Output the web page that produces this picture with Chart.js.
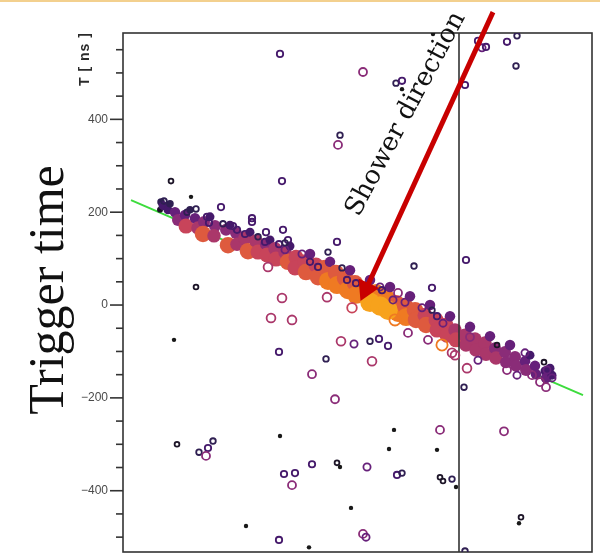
<!DOCTYPE html>
<html>
<head>
<meta charset="utf-8">
<script src="https://cdn.jsdelivr.net/npm/chart.js@4.4.1/dist/chart.umd.min.js"></script>
<style>
  body { margin: 0; background: #fff; }
  #wrap { position: relative; width: 600px; height: 554px; }
  #slideEdge { position: absolute; left: 0; top: 0; width: 600px; height: 2px; background: #f3d08e; }
</style>
</head>
<body>
<div id="wrap">
  <canvas id="trigger" width="600" height="554"></canvas>
  <div id="slideEdge"></div>
</div>
<script>
// hits: [distance along shower axis (arb.), trigger time T in ns, signal level 0-9]
const bandHits = [
  [37,205,0],[38,222,1],[40,214,2],[45,205,2],
  [47,218,1],[52,200,3],[55,183,4],[62,194,3],[63,170,6],[67,205,1],
  [72,187,3],[75,166,5],[81,179,4],[80,153,7],[87,190,2],[92,170,4],[91,149,5],
  [103,162,4],[105,129,7],[107,172,2],[113,155,4],[114,131,5],[122,144,5],[125,116,7],[127,157,2],
  [133,138,5],[135,114,6],[143,131,4],[144,108,6],[147,140,2],[152,121,5],[153,99,6],
  [162,114,5],[165,93,7],[167,127,2],[173,103,6],[172,80,6],[182,93,6],[183,71,7],[187,110,3],
  [193,86,6],[195,60,7],[202,80,7],[205,52,8],[207,93,3],[213,69,7],[214,43,8],
  [222,58,7],[225,32,8],[227,75,3],[232,47,7],[233,22,8],[243,32,8],[247,54,3],
  [253,26,8],[263,15,8],[267,39,3],[273,4,7],[275,-17,8],
  [282,-2,7],[283,-26,8],[287,19,3],[292,-11,7],[293,-32,7],[302,-22,6],[303,-43,7],[307,0,3],
  [313,-32,6],[314,-54,6],[323,-43,6],[324,-65,6],[327,-24,3],[332,-54,5],[333,-75,6],
  [342,-65,5],[343,-86,5],[347,-47,3],[352,-73,5],[353,-97,5],[362,-82,5],[363,-106,5],[367,-67,3],
  [372,-93,4],[373,-114,5],[382,-101,4],[383,-123,4],[387,-86,3],[392,-112,4],[393,-131,4],
  [402,-121,3],[403,-140,4],[407,-108,2],[412,-131,3],[413,-149,3],[422,-142,2],[423,-157,3],
  [427,-136,2],[429,-151,2],
  [247,6,9],[257,-2,9],[265,-11,9]
];

// open circles hugging the band
const edgeRings = [
  [73,207,1],[64,200,1],[84,190,2],[86,177,2],[100,175,1],[110,170,2],[114,162,2],[122,153,2],
  [135,147,1],[142,136,2],[156,131,2],[162,119,3],[165,140,2],[162,134,1],[179,110,3],[187,93,2],
  [195,82,2],[219,80,1],[224,54,2],[233,47,2],[257,39,3],[259,32,2],[275,26,4],[270,11,3],
  [282,6,3],[299,-6,3],[309,-11,1],[314,-24,2],[320,-39,3],[347,-69,4],[374,-86,0],[402,-103,3],
  [421,-123,0],[424,-140,3],[429,-157,3],
  [204,17,5],[159,15,5],[229,-6,6],[272,-32,8],[285,-60,4],[305,-75,4],[319,-86,8],[329,-103,5],
  [332,-108,5],[355,-119,3],[384,-140,4],[394,-151,3],[409,-151,4],[417,-166,4],[423,-177,4],[145,82,5]
];

// open circles away from the band
const strayRings = [
  [157,541,2],[240,502,4],[273,478,1],[279,483,2],[355,569,2],[359,554,3],[363,556,2],[384,567,2],
  [394,580,1],[393,515,1],[342,474,2],[217,366,1],[215,345,4],[48,267,0],[159,267,2],[41,224,1],
  [98,211,2],[129,187,2],[129,179,2],[143,157,2],[160,162,2],[214,136,2],[205,114,1],[343,97,2],
  [291,84,1],[73,39,0],[148,-28,5],[169,-32,5],[156,-101,2],[54,-300,0],[76,-317,1],[85,-308,2],
  [90,-293,1],[83,-325,4],[161,-364,2],[172,-362,2],[169,-388,4],[156,-506,2],[309,37,2],[218,-78,5],
  [231,-84,3],[247,-78,1],[256,-73,2],[265,-88,2],[249,-121,5],[203,-116,1],[189,-149,4],[212,-203,4],
  [317,-269,4],[189,-343,2],[214,-340,0],[244,-349,3],[274,-366,2],[279,-362,1],[317,-371,0],
  [320,-379,0],[329,-375,1],[240,-493,4],[243,-500,3],[342,-530,1],[344,-136,5],[341,-177,1],
  [381,-272,4],[398,-457,0]
];

// tiny filled hits
const faintHits = [
  [279,465],[310,584],[68,233],[51,-75],[157,-282],[123,-476],[271,-269],[266,-310],
  [314,-312],[217,-349],[333,-392],[228,-437],[186,-522],[396,-470]
];

const fitLine = [[8,226],[460,-194]];
const panelSplit = 336;
const showerArrow = [[370,631],[243,34]];
const timeLabels = [-400,-200,0,200,400];
const tMin = -532, tMax = 586;
const xMin = 0, xMax = 469;

const palette = ['#1c1427','#2f1f52','#45196b','#66207a','#8a2c78','#aa376a','#c8445a','#de5a3e','#ef7a22','#f7a21c'];
const toPts = arr => arr.map(h => ({ x: h[0], y: h[1] }));
const rings = edgeRings.concat(strayRings);

const axisDecor = {
  id: 'axisDecor',
  beforeDatasetsDraw(chart) {
    const a = chart.chartArea, ctx = chart.ctx, y = chart.scales.y;
    ctx.save();
    ctx.strokeStyle = '#333';
    ctx.lineWidth = 1.6;
    ctx.strokeRect(a.left, a.top, a.right - a.left, a.bottom - a.top);
    y.ticks.forEach(t => {
      const py = y.getPixelForValue(t.value);
      const len = timeLabels.includes(t.value) ? 13 : 7;
      ctx.beginPath();
      ctx.moveTo(a.left - len, py);
      ctx.lineTo(a.left, py);
      ctx.stroke();
    });
    ctx.restore();
  },
  afterDraw(chart) {
    const ctx = chart.ctx;
    ctx.save();
    ctx.fillStyle = '#111';
    ctx.textAlign = 'center';
    ctx.font = '50px "Liberation Serif", serif';
    ctx.translate(63, 290);
    ctx.rotate(-Math.PI / 2);
    ctx.fillText('Trigger time', 0, 0);
    ctx.restore();

    ctx.save();
    ctx.fillStyle = '#2a2a2a';
    ctx.textAlign = 'center';
    ctx.font = 'bold 14px "Liberation Sans", Arial, sans-serif';
    ctx.letterSpacing = '1px';
    ctx.translate(89, 59);
    ctx.rotate(-Math.PI / 2);
    ctx.fillText('T [ ns ]', 0, 0);
    ctx.restore();

    ctx.save();
    ctx.fillStyle = '#111';
    ctx.textAlign = 'center';
    ctx.textBaseline = 'middle';
    ctx.font = '26px "DejaVu Serif", serif';
    ctx.translate(406, 114);
    ctx.rotate(-62 * Math.PI / 180);
    ctx.fillText('Shower direction', 0, 0);
    ctx.restore();
  }
};

new Chart(document.getElementById('trigger'), {
  type: 'scatter',
  data: {
    datasets: [
      {
        label: 'fit',
        data: toPts(fitLine),
        showLine: true,
        borderColor: '#3ddc3d',
        borderWidth: 2,
        pointRadius: 0,
        order: 6
      },
      {
        label: 'band',
        data: toPts(bandHits),
        backgroundColor: bandHits.map(h => palette[h[2]]),
        borderWidth: 0,
        pointRadius: bandHits.map(h => 3 + h[2] * 0.75),
        order: 5
      },
      {
        label: 'panel',
        data: [{ x: panelSplit, y: tMin }, { x: panelSplit, y: tMax }],
        showLine: true,
        borderColor: '#333',
        borderWidth: 1.6,
        pointRadius: 0,
        order: 4
      },
      {
        label: 'rings',
        data: toPts(rings),
        backgroundColor: 'rgba(0,0,0,0)',
        borderColor: rings.map(h => palette[h[2]]),
        borderWidth: 1.8,
        pointRadius: rings.map(h => 2.4 + h[2] * 0.4),
        order: 3
      },
      {
        label: 'faint',
        data: toPts(faintHits),
        backgroundColor: '#181818',
        borderWidth: 0,
        pointRadius: 2.2,
        order: 2
      },
      {
        label: 'arrow',
        data: toPts(showerArrow),
        showLine: true,
        borderColor: '#c80000',
        borderWidth: 5,
        pointRadius: [0, 13],
        pointStyle: 'triangle',
        rotation: 205,
        pointBackgroundColor: '#c80000',
        pointBorderWidth: 0,
        clip: false,
        order: 0
      }
    ]
  },
  options: {
    responsive: false,
    animation: false,
    events: [],
    layout: { autoPadding: false, padding: { left: 0, top: 33, right: 8, bottom: 2 } },
    plugins: { legend: { display: false }, tooltip: { enabled: false } },
    scales: {
      x: { type: 'linear', min: xMin, max: xMax, display: false },
      y: {
        min: tMin,
        max: tMax,
        grid: { display: false, drawTicks: false },
        border: { display: false },
        ticks: {
          stepSize: 50,
          includeBounds: false,
          autoSkip: false,
          padding: 15,
          color: '#4a4a4a',
          font: { family: '"Liberation Sans", Arial, sans-serif', size: 12 },
          callback: v => timeLabels.includes(v) ? (v < 0 ? '\u2212' + Math.abs(v) : String(v)) : ''
        },
        afterFit: s => {
          s.width = 123;
          s.paddingTop = 0;
          s.paddingBottom = 0;
        }
      }
    }
  },
  plugins: [axisDecor]
});
</script>
</body>
</html>
